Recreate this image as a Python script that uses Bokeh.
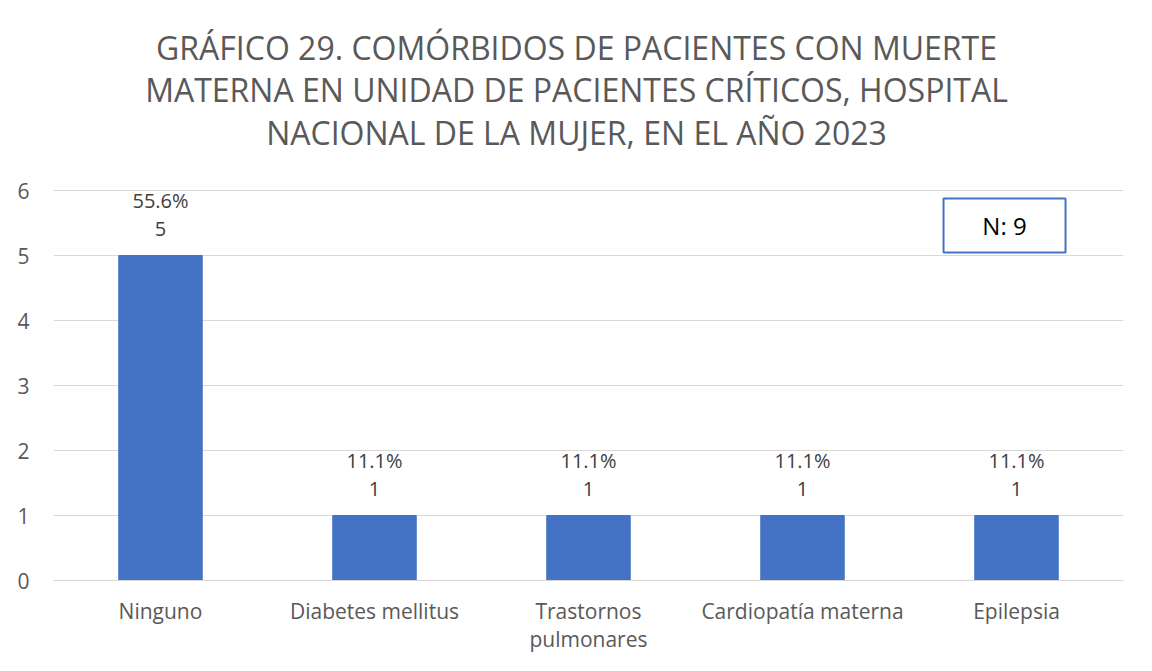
from bokeh.plotting import figure
from bokeh.models import Range1d, FixedTicker, ColumnDataSource, FactorRange
from bokeh.core.properties import value
from bokeh.embed import file_html
from bokeh.resources import INLINE

categories = ["Ninguno", "Diabetes mellitus", "Trastornos\npulmonares", "Cardiopatía materna", "Epilepsia"]
counts = [5, 1, 1, 1, 1]
percents = ["55.6%", "11.1%", "11.1%", "11.1%", "11.1%"]
count_labels = [str(c) for c in counts]
y_ticks = [0, 1, 2, 3, 4, 5, 6]
title_lines = [
    "GRÁFICO 29. COMÓRBIDOS DE PACIENTES CON MUERTE",
    "MATERNA EN UNIDAD DE PACIENTES CRÍTICOS, HOSPITAL",
    "NACIONAL DE LA MUJER, EN EL AÑO 2023",
]
n_text = "N: 9"

FONT = "Open Sans"
YTOP = 580 / 65

src = ColumnDataSource(dict(cat=categories, val=counts, pct=percents, cnt=count_labels))

p = figure(
    width=1136, height=655,
    x_range=FactorRange(*categories, range_padding=0),
    y_range=Range1d(0, YTOP),
    output_backend="svg", toolbar_location=None,
    min_border_left=53, min_border_right=13, min_border_top=0, min_border_bottom=75,
)
p.outline_line_color = None
p.background_fill_color = "white"
p.border_fill_color = "white"

p.vbar(x="cat", top="val", width=0.39, source=src, color="#4472C4", line_color="#4472C4")

p.text(x="cat", y="val", text="cnt", source=src, y_offset=-27,
       text_align="center", text_baseline="middle", text_font=value(FONT),
       text_font_size="20px", text_color="#404040")
p.text(x="cat", y="val", text="pct", source=src, y_offset=-55,
       text_align="center", text_baseline="middle", text_font=value(FONT),
       text_font_size="20px", text_color="#404040")

# Title lines (placed in the upper part of the frame, above the gridlines)
title_y = [YTOP - 47 / 65, YTOP - 89 / 65, YTOP - 132 / 65]
p.text(x=[2.444] * 3, y=title_y, text=title_lines,
       text_align="center", text_baseline="middle", text_font=value(FONT),
       text_font_size="32px", text_color="#595959")

# N box
p.rect(x=[4.444], y=[5.46], width=122, height=54, width_units="screen", height_units="screen",
       fill_color="white", line_color="#4472C4", line_width=2)
p.text(x=[4.444], y=[5.46], text=[n_text], text_align="center", text_baseline="middle",
       text_font=value(FONT), text_font_size="24px", text_color="#000000")

p.yaxis.ticker = FixedTicker(ticks=y_ticks)
p.ygrid.ticker = FixedTicker(ticks=y_ticks)
p.ygrid.grid_line_color = "#d9d9d9"
p.ygrid.grid_line_width = 1
p.xgrid.grid_line_color = None

for ax in (p.xaxis, p.yaxis):
    ax.axis_line_color = None
    ax.major_tick_line_color = None
    ax.minor_tick_line_color = None
    ax.major_label_text_font = FONT
    ax.major_label_text_font_size = "21px"
    ax.major_label_text_color = "#595959"

p.xaxis.axis_line_color = "#d9d9d9"
p.yaxis.major_label_standoff = 18
p.xaxis.major_label_standoff = 10
p.xaxis.major_label_text_line_height = 1.0

open("out.html", "w").write(file_html(p, INLINE))
